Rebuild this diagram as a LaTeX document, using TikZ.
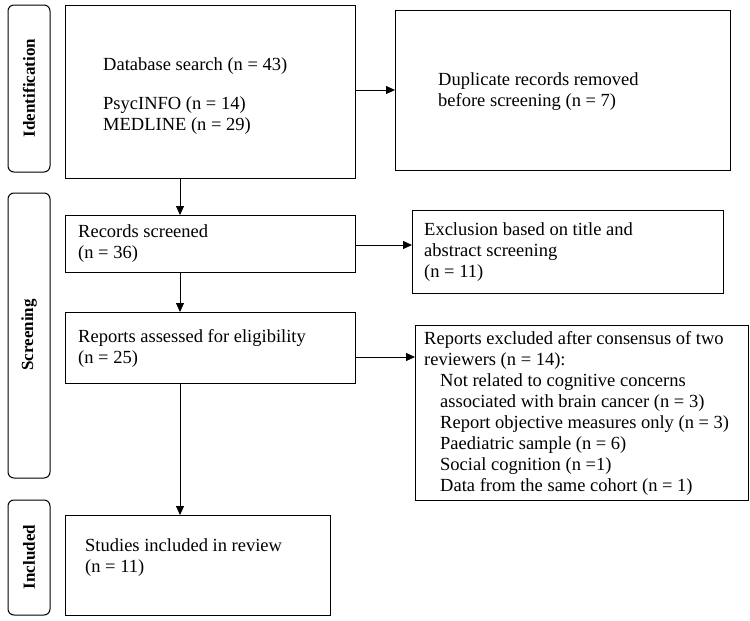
\documentclass[tikz,border=0pt]{standalone}
\usepackage{fontspec}
\setmainfont{Liberation Serif}
\usetikzlibrary{arrows.meta}
\begin{document}
\begin{tikzpicture}[x=1pt,y=-1pt,
  box/.style={draw,line width=1pt,inner sep=0pt},
  side/.style={draw,line width=1pt,rounded corners=6pt},
  lab/.style={font=\fontsize{18.5}{21}\selectfont,align=left,anchor=west,inner sep=0pt},
  slab/.style={font=\bfseries\fontsize{17}{20}\selectfont,rotate=90},
  arr/.style={-{Triangle[length=9pt,width=8pt]},line width=0.8pt}]
\useasboundingbox (0,0) rectangle (750,621);
% side bars
\draw[side] (8,5) rectangle (50,172); \node[slab] (sid) at (29,88) {Identification};
\draw[side] (8,193) rectangle (50,478); \node[slab] (ssc) at (29,335) {Screening};
\draw[side] (8,500) rectangle (50,615); \node[slab] (sin) at (29,557) {Included};
% boxes
\draw[box] (65,5) rectangle (355,178);
\node[lab] (db) at (103,96) {Database search (n = 43)\\[18pt]PsycINFO (n = 14)\\MEDLINE (n = 29)};
\coordinate (dbb) at (180,178); \coordinate (dbr) at (355,90);
\draw[box] (395,10) rectangle (730,170);
\node[lab] (dup) at (438,92) {Duplicate records removed\\before screening (n = 7)};
\coordinate (dupl) at (395,90);
\draw[box] (65,215) rectangle (355,272);
\node[lab] (rs) at (78,244) {Records screened\\(n = 36)};
\coordinate (rst) at (180,215); \coordinate (rsb) at (180,272); \coordinate (rsr) at (355,245);
\draw[box] (412,210) rectangle (723,293);
\node[lab] (ex) at (424,252) {Exclusion based on title and\\abstract screening\\(n = 11)};
\coordinate (exl) at (412,245);
\draw[box] (65,312) rectangle (355,383);
\node[lab] (ra) at (78,348) {Reports assessed for eligibility\\(n = 25)};
\coordinate (rat) at (180,312); \coordinate (rab) at (180,383); \coordinate (rar) at (355,357);
\draw[box] (415,325) rectangle (748,500);
\node[lab] (re) at (424,413) {Reports excluded after consensus of two\\reviewers (n = 14):\\
\hspace*{16pt}Not related to cognitive concerns\\
\hspace*{16pt}associated with brain cancer (n = 3)\\
\hspace*{16pt}Report objective measures only (n = 3)\\
\hspace*{16pt}Paediatric sample (n = 6)\\
\hspace*{16pt}Social cognition (n =1)\\
\hspace*{16pt}Data from the same cohort (n = 1)};
\coordinate (rel) at (415,357);
\draw[box] (65,515) rectangle (330,615);
\node[lab] (si) at (85,558) {Studies included in review\\(n = 11)};
\coordinate (sit) at (180,515);
% arrows
\draw[arr] (dbb) -- (rst);
\draw[arr] (rsb) -- (rat);
\draw[arr] (rab) -- (sit);
\draw[arr] (dbr) -- (dupl);
\draw[arr] (rsr) -- (exl);
\draw[arr] (rar) -- (rel);
\end{tikzpicture}
\end{document}
